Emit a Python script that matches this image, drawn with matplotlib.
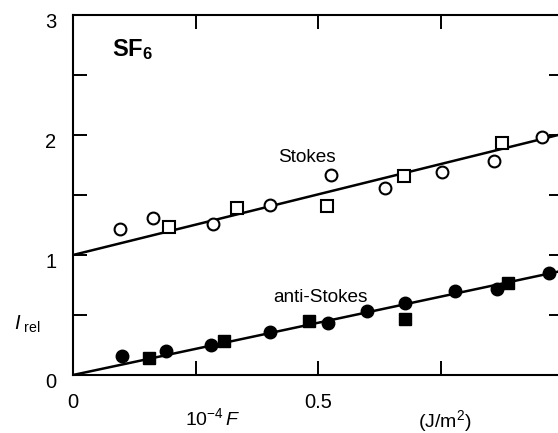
import matplotlib
matplotlib.use("Agg")
import matplotlib.pyplot as plt
from matplotlib.ticker import MultipleLocator
from matplotlib.transforms import ScaledTranslation

plt.rcParams['font.family'] = ['Liberation Sans', 'DejaVu Sans']
plt.rcParams['mathtext.fontset'] = 'custom'
plt.rcParams['mathtext.rm'] = 'Liberation Sans'
plt.rcParams['mathtext.it'] = 'Liberation Sans:italic'
plt.rcParams['mathtext.bf'] = 'Liberation Sans:bold'

# Stokes data
stokes_circ_x = [0.096, 0.163, 0.285, 0.402, 0.526, 0.637, 0.754, 0.859, 0.958]
stokes_circ_y = [1.22, 1.31, 1.26, 1.42, 1.67, 1.555, 1.69, 1.78, 1.98]
stokes_sq_x = [0.195, 0.335, 0.518, 0.676, 0.876]
stokes_sq_y = [1.23, 1.39, 1.41, 1.66, 1.93]

# anti-Stokes data
anti_circ_x = [0.099, 0.189, 0.282, 0.402, 0.520, 0.599, 0.678, 0.780, 0.865, 0.972]
anti_circ_y = [0.158, 0.20, 0.25, 0.36, 0.43, 0.536, 0.60, 0.70, 0.72, 0.85]
anti_sq_x = [0.155, 0.308, 0.482, 0.678, 0.888]
anti_sq_y = [0.145, 0.286, 0.45, 0.47, 0.77]

# fitted lines (intercept, slope)
stokes_fit = (1.0, 1.01)
anti_fit = (0.0, 0.87)
fit_x = [0.0, 1.0]

fig = plt.figure(figsize=(5.58, 4.33), dpi=100)
ax = fig.add_axes([73/558, 58/433, (563-73)/558, (375-15)/433])

ax.plot(fit_x, [stokes_fit[0] + stokes_fit[1]*x for x in fit_x], color='black', lw=1.8, zorder=2)
ax.plot(fit_x, [anti_fit[0] + anti_fit[1]*x for x in fit_x], color='black', lw=1.8, zorder=2)

ax.plot(stokes_circ_x, stokes_circ_y, 'o', ms=8.5, mfc='white', mec='black', mew=1.5, zorder=3)
ax.plot(stokes_sq_x, stokes_sq_y, 's', ms=8, mfc='white', mec='black', mew=1.5, zorder=3)
ax.plot(anti_circ_x, anti_circ_y, 'o', ms=9, mfc='black', mec='black', zorder=3)
ax.plot(anti_sq_x, anti_sq_y, 's', ms=8.5, mfc='black', mec='black', zorder=3)

ax.set_xlim(0, 1.0)
ax.set_ylim(0, 3)
ax.set_xticks([0, 0.25, 0.5, 0.75])
ax.set_xticklabels(['0', '', '0.5', ''])
ax.set_yticks([0, 1, 2, 3])
ax.set_yticklabels(['0', '1', '2', '3'])
ax.yaxis.set_minor_locator(MultipleLocator(0.5))
ax.tick_params(which='both', direction='in', length=10, width=1.4,
               top=True, right=True, labelsize=14.5)
ax.tick_params(axis='x', pad=13)
ax.tick_params(axis='y', pad=12)
for s in ax.spines.values():
    s.set_linewidth(1.5)

offset = ScaledTranslation(0, -6/100, fig.dpi_scale_trans)
for lab in ax.get_yticklabels():
    lab.set_transform(lab.get_transform() + offset)

ax.text(0.477, 1.81, 'Stokes', ha='center', va='center', fontsize=13.7)
ax.text(0.504, 0.65, 'anti-Stokes', ha='center', va='center', fontsize=13.7)

fig.text(112/558, 1 - 50/433, r'$\mathbf{SF}_{\mathbf{6}}$', fontsize=17, ha='left', va='center')
fig.text(14/558, 1 - 324/433, r'$I_{\ \rm rel}$', fontsize=14.5, ha='left', va='center')
fig.text(185/558, 1 - 418/433, r'$10^{-4}\,F$', fontsize=14, ha='left', va='center')
fig.text(418/558, 1 - 421/433, r'(J/m$^2$)', fontsize=14, ha='left', va='center')

fig.savefig('out.png', dpi=100)
